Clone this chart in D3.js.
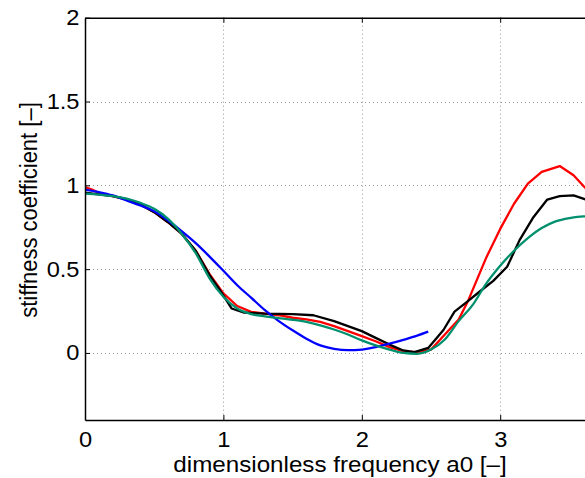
<!DOCTYPE html>
<html><head><meta charset="utf-8">
<script src="https://cdn.jsdelivr.net/npm/d3@7"></script>
<style>body{margin:0;background:#fff}svg{display:block}</style>
</head><body>
<script>
const xTicks = [0, 1, 2, 3];
const yTicks = [0, 0.5, 1, 1.5, 2];
const yTickLabels = ["0", "0.5", "1", "1.5", "2"];
const xLabel = "dimensionless frequency a0 [–]";
const yLabel = "stiffness coefficient [–]";

const redX = [0,0.05,0.1,0.2,0.3,0.4,0.5,0.6,0.7,0.8,0.9,1.0,1.1,1.2,1.3,1.4,1.5,1.6,1.7,1.8,1.9,2.0,2.1,2.2,2.3,2.4,2.5,2.6,2.7,2.77,2.9,3.0,3.1,3.2,3.3,3.43,3.53,3.62,3.72];
const redY = [0.99,0.975,0.955,0.935,0.915,0.885,0.84,0.78,0.71,0.61,0.47,0.355,0.28,0.245,0.235,0.225,0.21,0.2,0.185,0.16,0.13,0.1,0.07,0.035,0.01,0.005,0.02,0.11,0.2,0.315,0.57,0.74,0.89,1.01,1.08,1.115,1.06,0.98,0.9];

const blackX = [0,0.1,0.2,0.3,0.4,0.5,0.6,0.7,0.8,0.9,0.975,1.06,1.15,1.3,1.5,1.65,1.8,1.9,2.0,2.1,2.2,2.3,2.38,2.48,2.59,2.67,2.76,2.85,2.95,3.05,3.14,3.24,3.34,3.43,3.53,3.62,3.72];
const blackY = [0.957,0.946,0.935,0.917,0.885,0.84,0.78,0.71,0.61,0.464,0.375,0.265,0.24,0.235,0.232,0.225,0.19,0.16,0.13,0.09,0.05,0.015,0.005,0.03,0.137,0.246,0.305,0.365,0.43,0.514,0.673,0.81,0.915,0.935,0.94,0.915,0.88];

const greenX = [0,0.1,0.2,0.3,0.4,0.5,0.6,0.7,0.8,0.9,1.0,1.1,1.2,1.3,1.4,1.5,1.6,1.7,1.8,1.9,2.0,2.1,2.2,2.3,2.4,2.5,2.6,2.7,2.8,2.9,3.0,3.1,3.2,3.3,3.4,3.5,3.6,3.7];
const greenY = [0.95,0.945,0.935,0.92,0.895,0.86,0.8,0.71,0.595,0.445,0.335,0.265,0.232,0.218,0.208,0.198,0.185,0.165,0.14,0.11,0.075,0.045,0.02,0.0,-0.005,0.02,0.08,0.19,0.285,0.415,0.52,0.61,0.685,0.745,0.785,0.805,0.815,0.815];

const blueX = [0,0.1,0.2,0.3,0.4,0.5,0.6,0.7,0.8,0.9,1.0,1.1,1.2,1.3,1.4,1.5,1.6,1.7,1.8,1.9,2.0,2.1,2.2,2.3,2.4,2.48];
const blueY = [0.975,0.96,0.94,0.91,0.88,0.845,0.79,0.725,0.655,0.575,0.49,0.404,0.33,0.255,0.19,0.135,0.085,0.045,0.025,0.017,0.02,0.035,0.055,0.078,0.103,0.127];

const W = 585, H = 478;
const svg = d3.select("body").append("svg").attr("width", W).attr("height", H);
const x = d3.scaleLinear().domain([0, 4]).range([85, 85 + 4 * 138.4]);
const y = d3.scaleLinear().domain([-0.4, 2]).range([420, 17.7]);

const font = "'Liberation Sans', Arial, Helvetica, sans-serif";
const FS = 21.5, LFS = 22, SX = 1.1;

// grid
const grid = svg.append("g").attr("stroke", "#999").attr("stroke-width", 1).attr("stroke-dasharray", "1,3");
xTicks.filter(d => d > 0).forEach(d => {
  grid.append("line").attr("x1", Math.round(x(d)) + 0.5).attr("x2", Math.round(x(d)) + 0.5).attr("y1", y(2)).attr("y2", y(-0.4));
});
yTicks.filter(d => d < 2).forEach(d => {
  grid.append("line").attr("x1", x(0)).attr("x2", x(4)).attr("y1", Math.round(y(d)) + 0.5).attr("y2", Math.round(y(d)) + 0.5);
});

svg.append("defs").append("clipPath").attr("id", "clip").append("rect")
  .attr("x", x(0)).attr("y", y(2)).attr("width", x(4) - x(0)).attr("height", y(-0.4) - y(2));

const lines = svg.append("g").attr("clip-path", "url(#clip)").attr("fill", "none").attr("stroke-width", 2.3).attr("stroke-linejoin", "round");
const lineLin = d3.line().x(d => x(d[0])).y(d => y(d[1]));
const lineSmooth = d3.line().x(d => x(d[0])).y(d => y(d[1])).curve(d3.curveMonotoneX);
const zip = (a, b) => a.map((v, i) => [v, b[i]]);

lines.append("path").attr("d", lineLin(zip(redX, redY))).attr("stroke", "#ff0000");
lines.append("path").attr("d", lineLin(zip(blackX, blackY))).attr("stroke", "#000000");
lines.append("path").attr("d", lineSmooth(zip(blueX, blueY))).attr("stroke", "#0000ff");
lines.append("path").attr("d", lineSmooth(zip(greenX, greenY))).attr("stroke", "#00906e");

// axes
const xAxis = d3.axisBottom(x).tickValues(xTicks).tickSizeInner(-5).tickSizeOuter(0).tickPadding(12).tickFormat(d3.format("d"));
const gx = svg.append("g").attr("transform", `translate(0,${y(-0.4)})`).call(xAxis);
const xTop = d3.axisTop(x).tickValues(xTicks).tickSizeInner(-5).tickSizeOuter(0).tickFormat("");
const gxt = svg.append("g").attr("transform", `translate(0,${y(2)})`).call(xTop);
const yAxis = d3.axisLeft(y).tickValues(yTicks).tickSizeInner(-5).tickSizeOuter(0).tickPadding(5).tickFormat((d, i) => yTickLabels[i]);
const gy = svg.append("g").attr("transform", `translate(${x(0)},0)`).call(yAxis);

[gx, gxt, gy].forEach(g => {
  g.select(".domain").attr("stroke", "#000").attr("stroke-width", 1.5);
  g.selectAll(".tick line").attr("stroke", "#000");
  g.selectAll("text").attr("font-family", font).attr("font-size", FS).attr("fill", "#000")
    .attr("transform", `scale(${SX},1)`);
});

svg.append("text").attr("transform", `translate(340,472) scale(${SX},1)`).attr("text-anchor", "middle")
  .attr("font-family", font).attr("font-size", LFS).text(xLabel);
svg.append("text").attr("transform", `translate(37,210) rotate(-90) scale(1,${SX})`).attr("text-anchor", "middle")
  .attr("font-family", font).attr("font-size", LFS).text(yLabel);
</script>
</body></html>
